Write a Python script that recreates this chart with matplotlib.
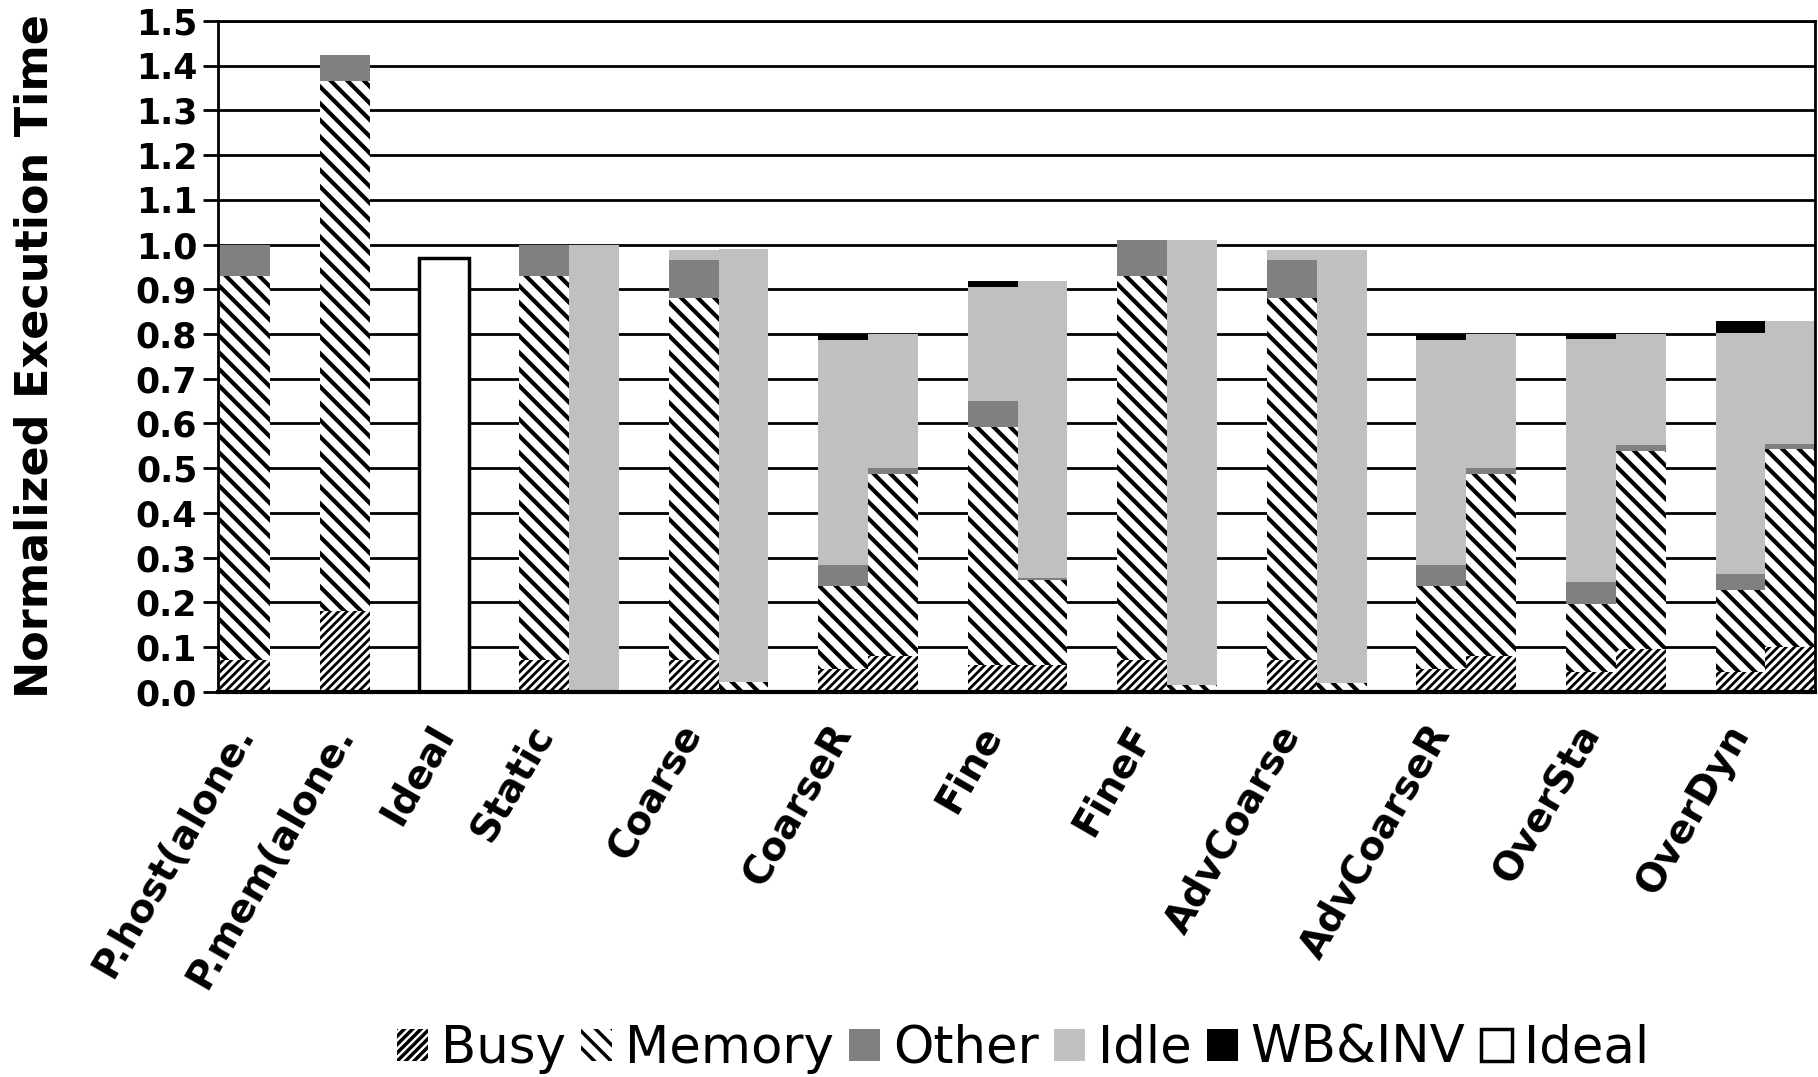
import matplotlib
matplotlib.use("Agg")
import matplotlib.pyplot as plt
import matplotlib.patches as mpatches
import numpy as np

# categories; the first three have a single bar, the rest have a host bar and a memory-side bar
groups = ["P.host(alone.", "P.mem(alone.", "Ideal", "Static", "Coarse", "CoarseR",
          "Fine", "FineF", "AdvCoarse", "AdvCoarseR", "OverSta", "OverDyn"]
paired = [False, False, False, True, True, True, True, True, True, True, True, True]

# host-side (first) bar of every category
busy_host = [0.07, 0.18, 0.0, 0.07, 0.07, 0.05, 0.06, 0.07, 0.07, 0.05, 0.045, 0.045]
memory_host = [0.86, 1.185, 0.0, 0.86, 0.81, 0.186, 0.532, 0.86, 0.81, 0.186, 0.15, 0.182]
other_host = [0.07, 0.06, 0.0, 0.07, 0.086, 0.048, 0.059, 0.08, 0.086, 0.048, 0.051, 0.037]
idle_host = [0.0, 0.0, 0.0, 0.0, 0.021, 0.503, 0.253, 0.0, 0.021, 0.503, 0.542, 0.538]
wbinv_host = [0.0, 0.0, 0.0, 0.0, 0.0, 0.013, 0.014, 0.0, 0.0, 0.013, 0.013, 0.027]
ideal_host = [0.0, 0.0, 0.97, 0.0, 0.0, 0.0, 0.0, 0.0, 0.0, 0.0, 0.0, 0.0]

# memory-side (second) bar, only for paired categories (Static .. OverDyn)
busy_mem = [0.0, 0.0, 0.08, 0.06, 0.0, 0.0, 0.08, 0.095, 0.1]
memory_mem = [0.0, 0.022, 0.406, 0.19, 0.015, 0.02, 0.406, 0.444, 0.442]
other_mem = [0.0, 0.0, 0.015, 0.005, 0.0, 0.0, 0.015, 0.012, 0.013]
idle_mem = [1.0, 0.967, 0.299, 0.663, 0.996, 0.967, 0.299, 0.249, 0.274]
wbinv_mem = [0.0, 0.0, 0.0, 0.0, 0.0, 0.0, 0.0, 0.0, 0.0]

legend_labels = ["Busy", "Memory", "Other", "Idle", "WB&INV", "Ideal"]

plt.rcParams["hatch.linewidth"] = 2.5

styles = {
    "Busy": dict(facecolor="white", edgecolor="black", hatch="////", linewidth=0),
    "Memory": dict(facecolor="white", edgecolor="black", hatch="\\\\", linewidth=0),
    "Other": dict(facecolor="#808080", edgecolor="#808080", linewidth=0),
    "Idle": dict(facecolor="#c0c0c0", edgecolor="#c0c0c0", linewidth=0),
    "WB&INV": dict(facecolor="black", edgecolor="black", linewidth=0),
    "Ideal": dict(facecolor="white", edgecolor="black", linewidth=2.5),
}
hatch_lw = {"Busy": 2.0, "Memory": 3.0}

# bar positions: every bar is 1 wide, one empty bar-width between categories
host_x, mem_x = [], []
cursor = 0.0
for p in paired:
    host_x.append(cursor + 0.5)
    if p:
        mem_x.append(cursor + 1.5)
    cursor += (2 if p else 1) + 1
x_right = cursor - 1


def stack(ax, xs, series):
    bottom = np.zeros(len(xs))
    for name, vals in series:
        vals = np.array(vals, dtype=float)
        bars = ax.bar(xs, vals, width=1.0, bottom=bottom, **styles[name])
        for b, v in zip(bars, vals):
            if v == 0:
                b.set_visible(False)
            if name in hatch_lw and hasattr(b, "set_hatch_linewidth"):
                b.set_hatch_linewidth(hatch_lw[name])
        bottom += vals


fig = plt.figure(figsize=(18.18, 10.77), dpi=100)
ax = fig.add_axes([0.1199, 0.3578, 0.9985 - 0.1199, 0.9805 - 0.3578])

stack(ax, host_x, [("Busy", busy_host), ("Memory", memory_host), ("Other", other_host),
                   ("Idle", idle_host), ("WB&INV", wbinv_host), ("Ideal", ideal_host)])
stack(ax, mem_x, [("Busy", busy_mem), ("Memory", memory_mem), ("Other", other_mem),
                  ("Idle", idle_mem), ("WB&INV", wbinv_mem)])

ax.set_xlim(-0.04, x_right)
ax.set_ylim(0, 1.5)
ax.set_yticks(np.arange(0, 1.51, 0.1))
ax.set_yticklabels([f"{v:.1f}" for v in np.arange(0, 1.51, 0.1)],
                   fontsize=25, fontweight="bold")
ax.tick_params(axis="y", length=11, width=2, pad=4, direction="out")
ax.set_xticks(host_x)
ax.set_xticklabels(groups, rotation=60, ha="right", va="center",
                   rotation_mode="anchor", fontsize=28, fontweight="bold")
ax.tick_params(axis="x", length=0, pad=26)

ax.set_axisbelow(True)
ax.yaxis.grid(True, color="black", linewidth=2)
for side in ["left", "bottom", "right", "top"]:
    ax.spines[side].set_linewidth(2)
    ax.spines[side].set_color("black")
ax.spines["bottom"].set_linewidth(3)

fig.text(0.019, 0.352, "Normalized Execution Time", rotation=90, ha="center",
         va="bottom", fontsize=32, fontweight="bold")

handles = []
for name in legend_labels:
    h = mpatches.Patch(**styles[name])
    if name in hatch_lw and hasattr(h, "set_hatch_linewidth"):
        h.set_hatch_linewidth(hatch_lw[name])
    handles.append(h)
fig.legend(handles, legend_labels, loc="center", bbox_to_anchor=(0.563, 0.026),
           ncol=6, frameon=False, fontsize=37, handlelength=0.6, handleheight=0.6,
           handletextpad=0.25, columnspacing=0.3, borderpad=0)

fig.savefig("out.png", dpi=100)
